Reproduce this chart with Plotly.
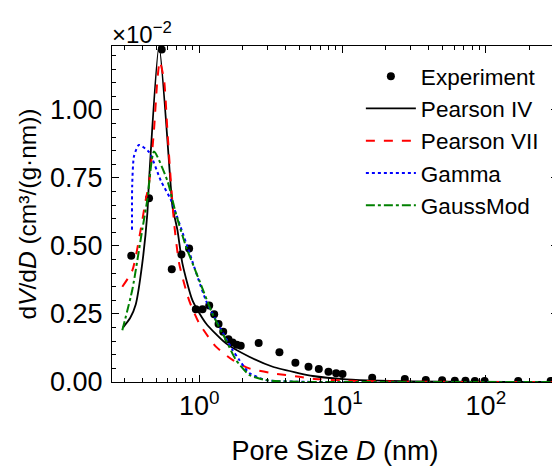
import plotly.graph_objects as go

# Experimental data (dV/dD in units of 1e-2 cm^3/(g nm))
exp_D = [0.336, 0.447, 0.548, 0.644, 0.752, 0.851, 0.948, 1.055, 1.175, 1.273, 1.365,
         1.472, 1.60, 1.71, 1.83, 1.95, 2.60, 3.63, 4.69, 5.79, 6.83, 7.98, 9.03, 10.0,
         16.1, 27.2, 38.1, 49.5, 60.7, 72.0, 83.8, 98.0, 168.0, 283.0]
exp_V = [0.464, 0.675, 1.222, 0.414, 0.469, 0.491, 0.267, 0.267, 0.281, 0.249, 0.213,
         0.185, 0.157, 0.145, 0.137, 0.133, 0.143, 0.109, 0.071, 0.056, 0.048, 0.038, 0.032, 0.029,
         0.016, 0.011, 0.007, 0.006, 0.005, 0.005, 0.004, 0.004, 0.004, 0.004]

p4_D = [0.294, 0.33, 0.361, 0.401, 0.435, 0.447, 0.525, 0.634, 0.651, 0.705, 0.764, 0.898,
        1.114, 1.537, 2.236, 3.26, 5.0, 6.2, 10.6, 18.1, 50.0, 300.0]
p4_V = [0.20, 0.235, 0.285, 0.436, 0.62, 0.74, 1.235, 0.718, 0.645, 0.559, 0.436, 0.30,
        0.216, 0.142, 0.093, 0.056, 0.032, 0.022, 0.010, 0.005, 0.001, 0.0003]

p7_D = [0.291, 0.342, 0.391, 0.424, 0.447, 0.484, 0.511, 0.531, 0.569, 0.600, 0.634,
        0.669, 0.725, 0.851, 1.0, 1.309, 1.71, 2.236, 3.26, 5.0, 6.2, 10.6, 30.0, 300.0]
p7_V = [0.35, 0.41, 0.56, 0.67, 0.73, 0.926, 1.11, 1.178, 1.11, 0.926, 0.74,
        0.583, 0.436, 0.30, 0.216, 0.13, 0.081, 0.05, 0.032, 0.019, 0.012, 0.005, 0.001, 0.0002]

gam_D = [0.340, 0.341, 0.351, 0.380, 0.447, 0.540, 0.634, 0.828, 1.114, 1.309, 1.71,
         1.905, 2.236, 2.93, 5.0, 20.0, 300.0]
gam_V = [0.56, 0.72, 0.83, 0.871, 0.845, 0.74, 0.67, 0.497, 0.30, 0.228, 0.118,
         0.081, 0.033, 0.007, 0.001, 0.0, 0.0]

gm_D = [0.291, 0.342, 0.401, 0.435, 0.484, 0.600, 0.687, 0.807, 1.0, 1.239, 1.537,
        1.806, 2.236, 2.93, 5.0, 20.0, 300.0]
gm_V = [0.19, 0.34, 0.56, 0.67, 0.847, 0.74, 0.62, 0.50, 0.375, 0.25, 0.154,
        0.081, 0.026, 0.007, 0.0005, 0.0, 0.0]

x_tickvals = [1, 10, 100]
x_ticktext = ["10<sup>0</sup>", "10<sup>1</sup>", "10<sup>2</sup>"]
y_tickvals = [0.0, 0.25, 0.5, 0.75, 1.0]

FONT = "Liberation Sans, Arial, sans-serif"

fig = go.Figure()
fig.add_trace(go.Scatter(x=exp_D, y=exp_V, mode="markers", name="Experiment",
                         marker=dict(color="black", size=8), legendgroup="a"))
fig.add_trace(go.Scatter(x=p4_D, y=p4_V, mode="lines", name="Pearson IV",
                         line=dict(color="black", width=1.8, shape="spline", smoothing=0.6),
                         legendgroup="b"))
fig.add_trace(go.Scatter(x=p7_D, y=p7_V, mode="lines", name="Pearson VII",
                         line=dict(color="red", width=2, dash="dash", shape="spline", smoothing=0.6),
                         legendgroup="c"))
fig.add_trace(go.Scatter(x=gam_D, y=gam_V, mode="lines", name="Gamma",
                         line=dict(color="blue", width=2, dash="dot", shape="spline", smoothing=0.6),
                         legendgroup="d"))
fig.add_trace(go.Scatter(x=gm_D, y=gm_V, mode="lines", name="GaussMod",
                         line=dict(color="green", width=2, dash="dashdot", shape="spline", smoothing=0.6),
                         legendgroup="e"))

minor_x = [m * 10 ** e for e in range(-1, 3) for m in range(2, 10)]

# page body has an 8px margin, so the figure is 8px smaller and margins offset
fig.update_layout(
    width=552, height=458,
    margin=dict(l=104, r=2, t=38, b=84),
    paper_bgcolor="white", plot_bgcolor="white",
    font=dict(family=FONT, size=22, color="black"),
    showlegend=True,
    legend=dict(x=0.558, xanchor="left", y=0.973, yanchor="top",
                bgcolor="rgba(255,255,255,0)", font=dict(size=22.5),
                traceorder="grouped", tracegroupgap=0, itemwidth=50),
    xaxis=dict(type="log", range=[-0.608, 2.503], automargin=False,
               tickvals=x_tickvals, ticktext=x_ticktext,
               ticks="inside", ticklen=7, tickwidth=1, tickcolor="black",
               showline=True, linecolor="black", linewidth=1, mirror="allticks",
               showgrid=False, zeroline=False,
               tickfont=dict(size=27),
               minor=dict(tickvals=minor_x, ticks="inside", ticklen=4, tickcolor="black", showgrid=False),
               title=dict(text="Pore Size <i>D</i> (nm)", font=dict(size=27), standoff=20)),
    yaxis=dict(range=[0, 1.235], tickvals=y_tickvals, tickformat=".2f", automargin=False,
               ticks="inside", ticklen=7, tickwidth=1, tickcolor="black",
               showline=True, linecolor="black", linewidth=1, mirror="allticks",
               showgrid=False, zeroline=False, ticklabelstandoff=3,
               tickfont=dict(size=27),
               minor=dict(dtick=0.05, ticks="inside", ticklen=4, tickcolor="black", showgrid=False),
               title=dict(text="d<i>V</i>/d<i>D</i> (cm³/(g·nm))", font=dict(size=24.5), standoff=6)),
    annotations=[dict(text="×10<sup>−2</sup>", xref="paper", yref="paper", x=0, y=1,
                      xanchor="left", yanchor="bottom", showarrow=False,
                      font=dict(size=24), xshift=-2, yshift=-4)],
)

fig.write_html("out.html")
